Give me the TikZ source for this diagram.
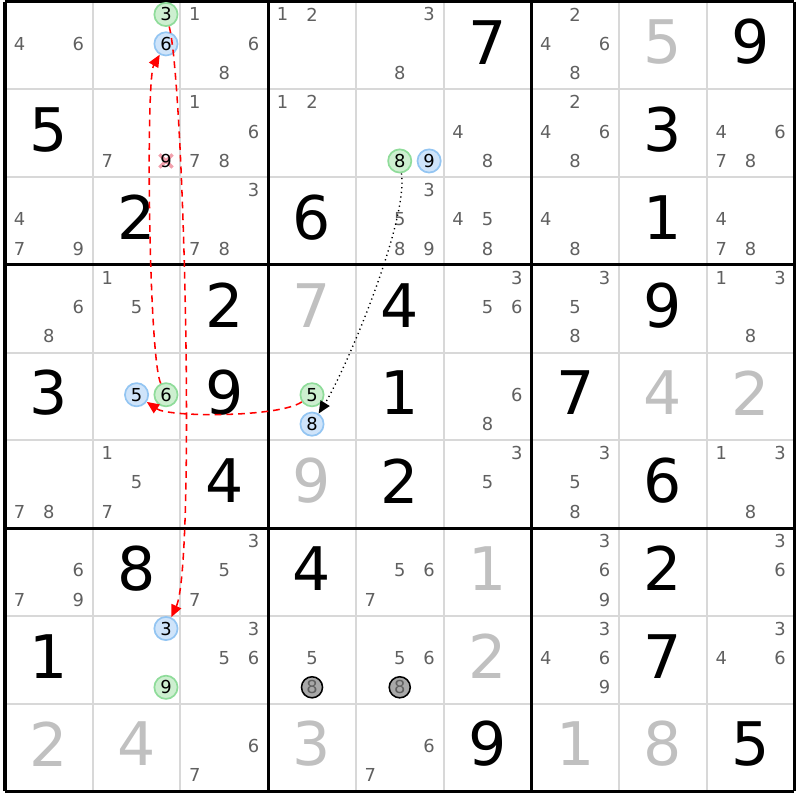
\documentclass[tikz,border=0pt]{standalone}
\usepackage{fontspec}
\setmainfont{DejaVu Sans}
\usetikzlibrary{arrows.meta}

\definecolor{candgray}{HTML}{606060}
\definecolor{solvedgray}{HTML}{C0C0C0}
\definecolor{thingray}{HTML}{D8D8D8}
\definecolor{ongreen}{HTML}{CDEFD0}
\definecolor{ongreenline}{HTML}{8FDC9A}
\definecolor{offblue}{HTML}{CFE4FA}
\definecolor{offblueline}{HTML}{93C5F2}
\definecolor{elimfill}{HTML}{A8A8A8}
\definecolor{xpink}{HTML}{F2A0AC}

\tikzset{
  given/.style={font=\fontsize{19.5}{20}\selectfont, text=black, inner sep=0pt},
  solved/.style={given, text=solvedgray},
  cand/.style={font=\fontsize{5.8}{6}\selectfont, text=candgray, inner sep=0pt},
  oncand/.style={cand, text=black, circle, draw=ongreenline, fill=ongreen, line width=0.55pt, minimum size=0.265cm},
  offcand/.style={cand, text=black, circle, draw=offblueline, fill=offblue, line width=0.55pt, minimum size=0.265cm},
  elimcand/.style={cand, circle, draw=black, fill=elimfill, line width=0.5pt, minimum size=0.24cm},
  thinline/.style={thingray, line width=0.65pt},
  boxline/.style={black, line width=1pt},
  redlink/.style={red, line width=0.5pt, dash pattern=on 2.2pt off 1.6pt, -{Triangle[length=1.4mm,width=1.2mm]}},
  dotlink/.style={black, line width=0.45pt, dash pattern=on 0.4pt off 1.1pt, -{Triangle[length=1.4mm,width=1.2mm]}},
  xmark/.style={xpink, line width=1.1pt},
}

\begin{document}
\begin{tikzpicture}
  \useasboundingbox (-0.057,0.02) rectangle (9.046,-9.10);

  % grid
  \foreach \i in {1,2,4,5,7,8} {
    \draw[thinline] (\i,0) -- (\i,-9);
    \draw[thinline] (0,-\i) -- (9,-\i);
  }
  \foreach \i in {0,3,6,9} {
    \draw[boxline] (\i,0) -- (\i,-9);
    \draw[boxline] (0,-\i) -- (9,-\i);
  }

  % givens and solved cells
  \foreach \r/\c/\v in {1/6/7, 1/9/9, 2/1/5, 2/8/3, 3/2/2, 3/4/6, 3/8/1, 4/3/2, 4/5/4, 4/8/9,
                        5/1/3, 5/3/9, 5/5/1, 5/7/7, 6/3/4, 6/5/2, 6/8/6, 7/2/8, 7/4/4, 7/8/2,
                        8/1/1, 8/8/7, 9/6/9, 9/9/5}
    \node[given] (g\r\c) at ({\c-0.5},{0.54-\r}) {\v};
  \foreach \r/\c/\v in {1/8/5, 4/4/7, 5/8/4, 5/9/2, 6/4/9, 7/6/1, 8/6/2, 9/1/2, 9/2/4, 9/4/3, 9/7/1, 9/8/8}
    \node[solved] (g\r\c) at ({\c-0.5},{0.54-\r}) {\v};

  % pencil marks
  \foreach \r/\c/\ds in {1/1/{4,6}, 1/3/{1,6,8}, 1/4/{1,2}, 1/5/{3,8}, 1/7/{2,4,6,8},
                         2/2/{7}, 2/3/{1,6,7,8}, 2/4/{1,2}, 2/6/{4,8}, 2/7/{2,4,6,8}, 2/9/{4,6,7,8},
                         3/1/{4,7,9}, 3/3/{3,7,8}, 3/5/{3,5,8,9}, 3/6/{4,5,8}, 3/7/{4,8}, 3/9/{4,7,8},
                         4/1/{6,8}, 4/2/{1,5}, 4/6/{3,5,6}, 4/7/{3,5,8}, 4/9/{1,3,8},
                         5/6/{6,8},
                         6/1/{7,8}, 6/2/{1,5,7}, 6/6/{3,5}, 6/7/{3,5,8}, 6/9/{1,3,8},
                         7/1/{6,7,9}, 7/3/{3,5,7}, 7/5/{5,6,7}, 7/7/{3,6,9}, 7/9/{3,6},
                         8/3/{3,5,6}, 8/4/{5}, 8/5/{5,6}, 8/7/{3,4,6,9}, 8/9/{3,4,6},
                         9/3/{6,7}, 9/5/{6,7}}
    \foreach \d in \ds {
      \pgfmathsetmacro\cx{\c-0.5+(mod(\d-1,3)-1)*0.335}
      \pgfmathsetmacro\cy{0.52-\r+(1-floor((\d-1)/3))*0.335}
      \node[cand] (k\r\c\d) at (\cx,\cy) {\d};
    }

  % eliminated 9 in r2c2
  \coordinate (x229) at (1.835,-1.815);
  \draw[xmark] (x229) +(-0.075,-0.075) -- +(0.075,0.075)
               (x229) +(-0.075,0.075) -- +(0.075,-0.075);
  \node[cand, text=black] (k229) at (x229) {9};

  % chain candidates
  \foreach \r/\c/\d/\how in {1/2/3/oncand, 1/2/6/offcand, 2/5/8/oncand, 2/5/9/offcand,
                             5/2/5/offcand, 5/2/6/oncand, 5/4/5/oncand, 5/4/8/offcand,
                             8/2/3/offcand, 8/2/9/oncand, 8/4/8/elimcand, 8/5/8/elimcand} {
    \pgfmathsetmacro\cx{\c-0.5+(mod(\d-1,3)-1)*0.335}
    \pgfmathsetmacro\cy{0.52-\r+(1-floor((\d-1)/3))*0.335}
    \node[\how] (k\r\c\d) at (\cx,\cy) {\d};
  }

  % links
  \draw[redlink] (k123) to[out=-75,in=65,looseness=0.25] (k823);
  \draw[redlink] (k545) to[out=-145,in=-35,looseness=0.45] (k525);
  \draw[redlink] (k526) to[out=115,in=-120,looseness=0.22] (k126);
  \draw[dotlink] (k258) to[out=-82,in=58,looseness=0.5] (k548);
\end{tikzpicture}
\end{document}
